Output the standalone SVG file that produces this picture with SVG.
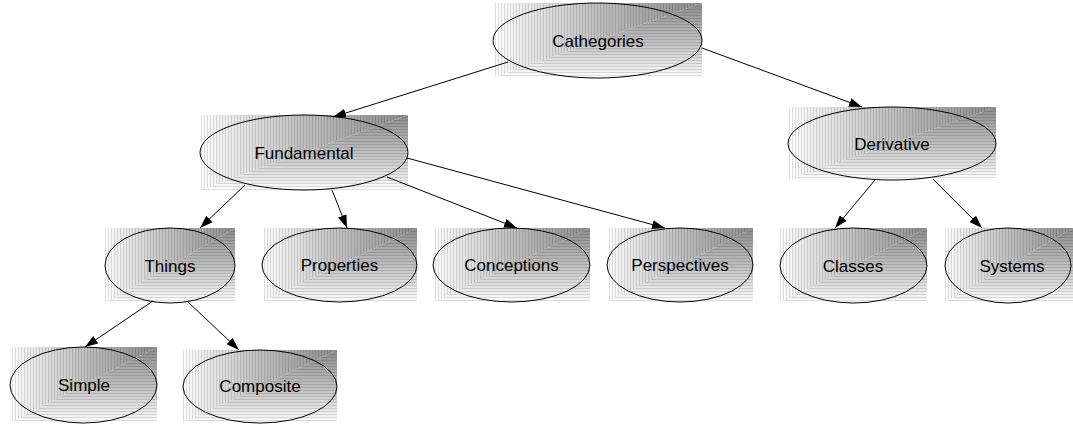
<svg xmlns="http://www.w3.org/2000/svg" width="1073" height="425" viewBox="0 0 1073 425">
  <defs>
    <!-- corner shading: left band darkens to the right, bottom band darkens upward -->
    <linearGradient id="gx" x1="0" y1="0" x2="1" y2="0">
      <stop offset="0" stop-color="#ffffff"/>
      <stop offset="0.45" stop-color="#c4c4c4"/>
      <stop offset="1" stop-color="#8c8c8c"/>
    </linearGradient>
    <linearGradient id="gy" x1="0" y1="1" x2="0" y2="0">
      <stop offset="0" stop-color="#ffffff"/>
      <stop offset="0.45" stop-color="#c4c4c4"/>
      <stop offset="1" stop-color="#8c8c8c"/>
    </linearGradient>
    <pattern id="vlines" patternUnits="userSpaceOnUse" width="3" height="3">
      <rect x="0" y="0" width="1" height="3" fill="#000000" fill-opacity="0.13"/>
    </pattern>
    <pattern id="hlines" patternUnits="userSpaceOnUse" width="3" height="3">
      <rect x="0" y="0" width="3" height="1" fill="#000000" fill-opacity="0.13"/>
    </pattern>
    <marker id="arrow" viewBox="0 0 13 9" refX="13" refY="4.5" markerWidth="13" markerHeight="9" markerUnits="userSpaceOnUse" orient="auto">
      <path d="M0,0 L13,4.5 L0,9 Z" fill="#000"/>
    </marker>
  </defs>
  <style>
    .sx { fill: url(#gx); }
    .sy { fill: url(#gy); }
    .hx { fill: url(#vlines); }
    .hy { fill: url(#hlines); }
    .node ellipse { fill: none; stroke: #000; stroke-width: 1; }
    .node text { font-family: "Liberation Sans", Arial, sans-serif; font-size: 17px; fill: #000; text-anchor: middle; }
    .edges line { stroke: #000; stroke-width: 1; marker-end: url(#arrow); }
  </style>
  <rect width="1073" height="425" fill="#ffffff"/>

  <g id="n-cathegories" class="node">
    <polygon class="sx" points="493,3 702,3 493,78"/>
    <polygon class="sy" points="702,3 702,78 493,78"/>
    <polygon class="hx" points="493,3 702,3 493,78"/>
    <polygon class="hy" points="702,3 702,78 493,78"/>
    <ellipse cx="597.5" cy="40.5" rx="104.5" ry="37.5"/>
    <text x="598" y="47">Cathegories</text>
  </g>

  <g id="n-fundamental" class="node">
    <polygon class="sx" points="200,115 408,115 200,190"/>
    <polygon class="sy" points="408,115 408,190 200,190"/>
    <polygon class="hx" points="200,115 408,115 200,190"/>
    <polygon class="hy" points="408,115 408,190 200,190"/>
    <ellipse cx="304" cy="152.5" rx="104" ry="37.5"/>
    <text x="304" y="159">Fundamental</text>
  </g>

  <g id="n-derivative" class="node">
    <polygon class="sx" points="788,107 996,107 788,180"/>
    <polygon class="sy" points="996,107 996,180 788,180"/>
    <polygon class="hx" points="788,107 996,107 788,180"/>
    <polygon class="hy" points="996,107 996,180 788,180"/>
    <ellipse cx="892" cy="143.5" rx="104" ry="36.5"/>
    <text x="892" y="150">Derivative</text>
  </g>

  <g id="n-things" class="node">
    <polygon class="sx" points="105,228 235,228 105,303"/>
    <polygon class="sy" points="235,228 235,303 105,303"/>
    <polygon class="hx" points="105,228 235,228 105,303"/>
    <polygon class="hy" points="235,228 235,303 105,303"/>
    <ellipse cx="170" cy="265.5" rx="65" ry="37.5"/>
    <text x="170" y="272">Things</text>
  </g>

  <g id="n-properties" class="node">
    <polygon class="sx" points="262,228 417,228 262,302"/>
    <polygon class="sy" points="417,228 417,302 262,302"/>
    <polygon class="hx" points="262,228 417,228 262,302"/>
    <polygon class="hy" points="417,228 417,302 262,302"/>
    <ellipse cx="339.5" cy="265" rx="77.5" ry="37"/>
    <text x="339.5" y="271">Properties</text>
  </g>

  <g id="n-conceptions" class="node">
    <polygon class="sx" points="433,228 590,228 433,302"/>
    <polygon class="sy" points="590,228 590,302 433,302"/>
    <polygon class="hx" points="433,228 590,228 433,302"/>
    <polygon class="hy" points="590,228 590,302 433,302"/>
    <ellipse cx="511.5" cy="265" rx="78.5" ry="37"/>
    <text x="511.5" y="271">Conceptions</text>
  </g>

  <g id="n-perspectives" class="node">
    <polygon class="sx" points="607,228 753,228 607,302"/>
    <polygon class="sy" points="753,228 753,302 607,302"/>
    <polygon class="hx" points="607,228 753,228 607,302"/>
    <polygon class="hy" points="753,228 753,302 607,302"/>
    <ellipse cx="680" cy="265" rx="73" ry="37"/>
    <text x="680" y="271">Perspectives</text>
  </g>

  <g id="n-classes" class="node">
    <polygon class="sx" points="780,228 927,228 780,303"/>
    <polygon class="sy" points="927,228 927,303 780,303"/>
    <polygon class="hx" points="780,228 927,228 780,303"/>
    <polygon class="hy" points="927,228 927,303 780,303"/>
    <ellipse cx="853.5" cy="265.5" rx="73.5" ry="37.5"/>
    <text x="853" y="272">Classes</text>
  </g>

  <g id="n-systems" class="node">
    <polygon class="sx" points="944,228 1073,228 944,303"/>
    <polygon class="sy" points="1073,228 1073,303 944,303"/>
    <polygon class="hx" points="944,228 1073,228 944,303"/>
    <polygon class="hy" points="1073,228 1073,303 944,303"/>
    <ellipse cx="1008" cy="265.5" rx="63" ry="37.5"/>
    <text x="1012" y="272">Systems</text>
  </g>

  <g id="n-simple" class="node">
    <polygon class="sx" points="10,347 157,347 10,423"/>
    <polygon class="sy" points="157,347 157,423 10,423"/>
    <polygon class="hx" points="10,347 157,347 10,423"/>
    <polygon class="hy" points="157,347 157,423 10,423"/>
    <ellipse cx="83.5" cy="385" rx="73.5" ry="38"/>
    <text x="84" y="391">Simple</text>
  </g>

  <g id="n-composite" class="node">
    <polygon class="sx" points="183,350 337,350 183,423"/>
    <polygon class="sy" points="337,350 337,423 183,423"/>
    <polygon class="hx" points="183,350 337,350 183,423"/>
    <polygon class="hy" points="337,350 337,423 183,423"/>
    <ellipse cx="260" cy="386.5" rx="77" ry="36.5"/>
    <text x="260" y="392">Composite</text>
  </g>

  <g id="connectors" class="edges">
    <line x1="508" y1="62" x2="333" y2="117"/>
    <line x1="702" y1="48" x2="862" y2="107"/>
    <line x1="245" y1="185" x2="200" y2="228"/>
    <line x1="332" y1="190" x2="347" y2="228"/>
    <line x1="387" y1="177" x2="517" y2="228"/>
    <line x1="407" y1="158" x2="665" y2="228"/>
    <line x1="875" y1="180" x2="835" y2="228"/>
    <line x1="933" y1="179" x2="982" y2="228"/>
    <line x1="153" y1="301" x2="85" y2="347"/>
    <line x1="188" y1="302" x2="239" y2="350"/>
  </g>
</svg>
